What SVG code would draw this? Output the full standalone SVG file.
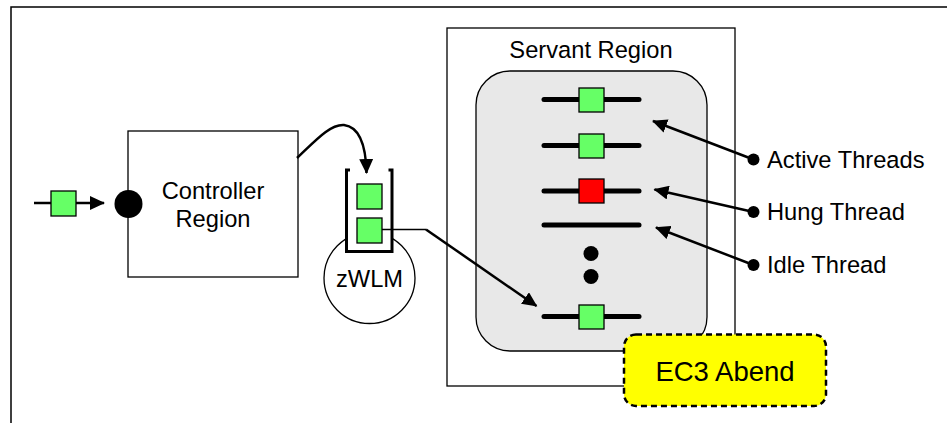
<svg xmlns="http://www.w3.org/2000/svg" width="947" height="423" viewBox="0 0 947 423">
<style>
text{font-family:"Liberation Sans",Arial,sans-serif;fill:#000}
.t{font-size:23.7px}
.box{fill:#fff;stroke:#000;stroke-width:1.3}
.sq{fill:#66ff66;stroke:#000;stroke-width:1.3}
.thr{stroke:#000;stroke-width:5;stroke-linecap:round;fill:none}
.arr{stroke:#000;stroke-width:2.5;fill:none;marker-end:url(#ah)}
</style>
<defs>
<marker id="ah" markerUnits="userSpaceOnUse" markerWidth="16" markerHeight="14" refX="14" refY="7" orient="auto">
<path d="M0,0 L15,7 L0,14 Z" fill="#000"/>
</marker>
</defs>
<rect width="947" height="423" fill="#fff"/>
<g id="frame"><path d="M11,423 V7 H947" fill="none" stroke="#000" stroke-width="1.5"/></g>

<g id="servant">
<rect class="box" x="447" y="28" width="288" height="358"/>
<text class="t" x="591" y="58" text-anchor="middle">Servant Region</text>
<rect x="476" y="71" width="231" height="280" rx="34" fill="#e8e8e8" stroke="#000" stroke-width="1.3"/>
</g>

<g id="threads">
<line class="thr" x1="544" y1="99.5" x2="639" y2="99.5"/>
<rect class="sq" x="579" y="88" width="25" height="24"/>
<line class="thr" x1="544" y1="145.5" x2="639" y2="145.5"/>
<rect class="sq" x="579" y="134" width="25" height="24"/>
<line class="thr" x1="544" y1="191" x2="639" y2="191"/>
<rect x="579" y="179" width="25" height="24" fill="#ff0000" stroke="#000" stroke-width="1.3"/>
<line class="thr" x1="544" y1="225" x2="639" y2="225"/>
<circle cx="591" cy="253.5" r="7.5" fill="#000"/>
<circle cx="591" cy="276.5" r="7.5" fill="#000"/>
<line class="thr" x1="544" y1="316.5" x2="639" y2="316.5"/>
<rect class="sq" x="579" y="305" width="25" height="24"/>
</g>

<g id="controller">
<rect class="box" x="128" y="131" width="170" height="146"/>
<text class="t" x="213" y="199" text-anchor="middle">Controller</text>
<text class="t" x="213" y="227" text-anchor="middle">Region</text>
<circle cx="128.5" cy="204" r="14" fill="#000"/>
</g>

<g id="input">
<line x1="34" y1="203" x2="104" y2="203" stroke="#000" stroke-width="2.5" marker-end="url(#ah)"/>
<rect class="sq" x="51" y="191" width="25" height="25"/>
</g>

<g id="zwlm">
<circle cx="369.5" cy="278" r="45.5" fill="#fff" stroke="#000" stroke-width="1.3"/>
<rect x="346" y="169" width="47" height="84" fill="#fff" stroke="none"/>
<path d="M350,170 H346.5 V251.5 H392 V170 H388.5" fill="none" stroke="#000" stroke-width="3"/>
<rect class="sq" x="357" y="184" width="25" height="25"/>
<rect class="sq" x="357" y="218" width="25" height="25"/>
<text class="t" x="369.5" y="287" text-anchor="middle">zWLM</text>
</g>

<g id="abend">
<rect x="624" y="334.5" width="202" height="71.5" rx="12" fill="#ffff00" stroke="#000" stroke-width="2.5" stroke-dasharray="6,4"/>
<text x="725" y="381" text-anchor="middle" font-size="27.5">EC3 Abend</text>
</g>

<g id="labels">
<circle cx="753.5" cy="159.5" r="6" fill="#000"/>
<text class="t" x="767" y="168">Active Threads</text>
<circle cx="753.5" cy="212" r="6" fill="#000"/>
<text class="t" x="767" y="220">Hung Thread</text>
<circle cx="753.5" cy="265" r="6" fill="#000"/>
<text class="t" x="767" y="273">Idle Thread</text>
</g>

<g id="connectors">
<path class="arr" d="M297,158 C315,141 330,124 344,125 C360,127 366,148 366.5,173"/>
<line x1="382" y1="229.5" x2="426" y2="229.5" stroke="#000" stroke-width="1.5"/>
<path class="arr" d="M426,229.5 L536.5,306"/>
<path class="arr" d="M753.5,159.5 L653,121"/>
<path class="arr" d="M753.5,212 L654.5,189.5"/>
<path class="arr" d="M753.5,265 L656,227.5"/>
</g>
</svg>
